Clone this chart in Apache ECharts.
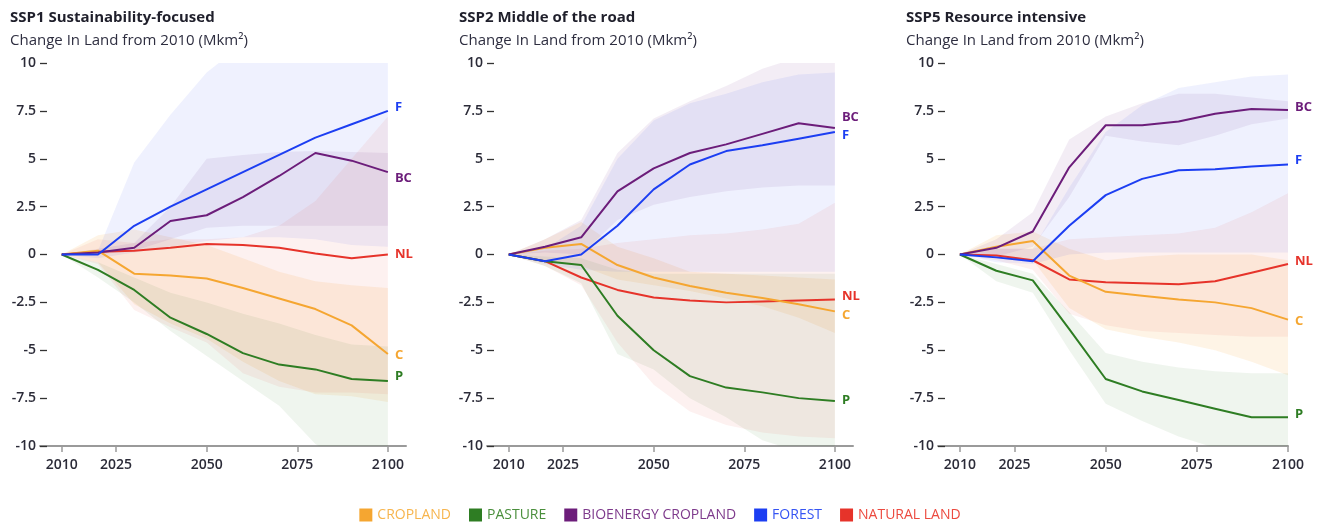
<!DOCTYPE html>
<html>
<head>
<meta charset="utf-8">
<script src="https://cdn.jsdelivr.net/npm/echarts@6.0.0/dist/echarts.min.js"></script>
<style>
html, body { margin: 0; padding: 0; background: #fff; }
#chartLand { width: 1320px; height: 522px; }
</style>
</head>
<body>
<div id="chartLand"></div>
<script>
// years sampled every decade
var years = [2010, 2020, 2030, 2040, 2050, 2060, 2070, 2080, 2090, 2100];
var xTickYears = [2010, 2025, 2050, 2075, 2100];
var panelTitles = ['SSP1 Sustainability-focused', 'SSP2 Middle of the road', 'SSP5 Resource intensive'];
var subTitle = 'Change In Land from 2010 (Mkm²)';
var landNames = ['CROPLAND', 'PASTURE', 'BIOENERGY CROPLAND', 'FOREST', 'NATURAL LAND'];
var endCodes = ['C', 'P', 'BC', 'F', 'NL'];

// SSP1
var ssp1Crop   = [0, 0.2, -1.0, -1.1, -1.25, -1.75, -2.3, -2.85, -3.7, -5.2];
var ssp1CropLo = [0, -0.4, -2.6, -3.6, -4.4, -5.6, -6.6, -7.3, -7.4, -7.7];
var ssp1CropHi = [0, 1.0, 1.3, 0.9, 0.5, -0.2, -0.9, -1.4, -1.6, -1.75];
var ssp1Past   = [0, -0.8, -1.85, -3.3, -4.15, -5.15, -5.75, -6.0, -6.5, -6.6];
var ssp1PastLo = [0, -1.2, -2.5, -4.0, -5.3, -6.6, -7.9, -9.9, -11, -12];
var ssp1PastHi = [0, -0.4, -1.2, -2.0, -2.5, -3.1, -3.6, -4.2, -4.7, -4.8];
var ssp1Bio    = [0, 0.1, 0.35, 1.75, 2.05, 3.0, 4.1, 5.3, 4.9, 4.3];
var ssp1BioLo  = [0, 0, 0.2, 0.8, 1.4, 1.5, 1.5, 1.5, 1.5, 1.5];
var ssp1BioHi  = [0, 0.3, 0.6, 2.5, 5.0, 5.2, 5.35, 5.4, 5.35, 5.3];
var ssp1For    = [0, 0, 1.5, 2.5, 3.4, 4.3, 5.2, 6.1, 6.8, 7.5];
var ssp1ForLo  = [0, -0.2, 0.1, 0.4, 0.7, 0.9, 0.9, 0.8, 0.5, 0.4];
var ssp1ForHi  = [0, 0.2, 4.8, 7.3, 9.5, 11, 12, 12.5, 13, 13];
var ssp1Nat    = [0, 0.15, 0.2, 0.35, 0.55, 0.5, 0.35, 0.05, -0.2, 0];
var ssp1NatLo  = [0, -0.5, -2.9, -3.8, -4.6, -6.2, -6.9, -7.2, -7.2, -7.3];
var ssp1NatHi  = [0, 0.8, 0.6, 0.8, 0.8, 0.9, 1.5, 2.8, 5.0, 7.2];

// SSP2
var ssp2Crop   = [0, 0.35, 0.55, -0.55, -1.2, -1.65, -2.0, -2.27, -2.6, -2.97];
var ssp2CropLo = [0, -0.3, -0.6, -1.3, -1.6, -1.9, -2.3, -2.7, -3.3, -4.1];
var ssp2CropHi = [0, 0.8, 1.7, 0.4, -0.2, -0.9, -1.0, -1.1, -1.2, -1.3];
var ssp2Past   = [0, -0.35, -0.55, -3.2, -5.0, -6.35, -6.95, -7.2, -7.5, -7.65];
var ssp2PastLo = [0, -0.6, -1.5, -5.2, -6.0, -7.5, -8.5, -9.7, -10.3, -10.3];
var ssp2PastHi = [0, -0.1, -0.2, -0.8, -1.0, -1.0, -1.0, -1.0, -1.0, -1.0];
var ssp2Bio    = [0, 0.4, 0.9, 3.3, 4.5, 5.3, 5.75, 6.3, 6.85, 6.6];
var ssp2BioLo  = [0, 0.1, 0, 1.8, 2.6, 3.0, 3.3, 3.5, 3.6, 3.6];
var ssp2BioHi  = [0, 0.8, 1.8, 5.3, 7.1, 8.0, 8.8, 9.7, 10.3, 10.3];
var ssp2For    = [0, -0.35, 0.0, 1.5, 3.4, 4.7, 5.4, 5.7, 6.05, 6.4];
var ssp2ForLo  = [0, -0.5, -0.8, -0.9, -0.9, -0.9, -0.9, -0.9, -0.9, -0.9];
var ssp2ForHi  = [0, 0.3, 1.5, 5.0, 7.0, 7.9, 8.4, 9.0, 9.4, 9.5];
var ssp2Nat    = [0, -0.35, -1.2, -1.85, -2.25, -2.4, -2.5, -2.45, -2.4, -2.35];
var ssp2NatLo  = [0, -0.6, -1.6, -4.6, -6.8, -8.2, -8.9, -9.3, -9.5, -9.6];
var ssp2NatHi  = [0, 0.2, 0.3, 0.6, 0.8, 1.0, 1.1, 1.3, 1.6, 2.7];

// SSP5
var ssp5Crop   = [0, 0.4, 0.7, -1.1, -1.95, -2.15, -2.35, -2.5, -2.8, -3.4];
var ssp5CropLo = [0, -0.1, -0.3, -2.8, -3.9, -4.3, -4.6, -5.0, -5.6, -6.3];
var ssp5CropHi = [0, 1.0, 1.2, 0.3, -0.3, -0.1, 0, 0, 0, -0.3];
var ssp5Past   = [0, -0.85, -1.35, -3.9, -6.5, -7.15, -7.6, -8.05, -8.5, -8.5];
var ssp5PastLo = [0, -1.4, -2.0, -5.0, -7.8, -8.7, -9.5, -10.1, -10.3, -10.3];
var ssp5PastHi = [0, -0.5, -1.0, -3.0, -5.15, -5.6, -5.9, -6.1, -6.2, -6.2];
var ssp5Bio    = [0, 0.35, 1.2, 4.55, 6.75, 6.75, 6.95, 7.35, 7.6, 7.55];
var ssp5BioLo  = [0, -0.1, 0.4, 3.0, 6.2, 5.9, 5.7, 6.2, 6.8, 7.1];
var ssp5BioHi  = [0, 0.8, 2.2, 6.0, 7.2, 7.9, 8.4, 8.4, 8.2, 8.0];
var ssp5For    = [0, -0.15, -0.35, 1.5, 3.1, 3.95, 4.4, 4.45, 4.6, 4.7];
var ssp5ForLo  = [0, -0.4, -0.5, 0, 0.1, 0.1, 0.1, 0.1, 0.1, 0.1];
var ssp5ForHi  = [0, 0.3, 0.3, 3.5, 6.4, 7.8, 8.7, 9.0, 9.3, 9.4];
var ssp5Nat    = [0, -0.05, -0.3, -1.3, -1.45, -1.5, -1.55, -1.4, -0.95, -0.5];
var ssp5NatLo  = [0, -0.3, -0.8, -3.1, -3.7, -4.0, -4.1, -4.2, -4.3, -4.3];
var ssp5NatHi  = [0, 0.3, 0.3, 0.8, 0.9, 1.0, 1.1, 1.4, 2.2, 3.2];

var lineColors = ['#f5a631', '#2e7d23', '#6c1d7a', '#1c3ef2', '#e6332a'];
var bandColors = ['rgba(245,166,49,0.12)', 'rgba(46,125,35,0.08)', 'rgba(108,29,122,0.08)', 'rgba(28,62,242,0.07)', 'rgba(230,51,42,0.07)'];
var legendTextColors = ['#f7b54e', '#4a8f3c', '#7e3a8c', '#3554f3', '#ec4a3f'];

var panels = [
    { mean: [ssp1Crop, ssp1Past, ssp1Bio, ssp1For, ssp1Nat],
      lo:   [ssp1CropLo, ssp1PastLo, ssp1BioLo, ssp1ForLo, ssp1NatLo],
      hi:   [ssp1CropHi, ssp1PastHi, ssp1BioHi, ssp1ForHi, ssp1NatHi] },
    { mean: [ssp2Crop, ssp2Past, ssp2Bio, ssp2For, ssp2Nat],
      lo:   [ssp2CropLo, ssp2PastLo, ssp2BioLo, ssp2ForLo, ssp2NatLo],
      hi:   [ssp2CropHi, ssp2PastHi, ssp2BioHi, ssp2ForHi, ssp2NatHi] },
    { mean: [ssp5Crop, ssp5Past, ssp5Bio, ssp5For, ssp5Nat],
      lo:   [ssp5CropLo, ssp5PastLo, ssp5BioLo, ssp5ForLo, ssp5NatLo],
      hi:   [ssp5CropHi, ssp5PastHi, ssp5BioHi, ssp5ForHi, ssp5NatHi] }
];

// layout per panel
var gridLeft = [40, 487, 938];
var gridWidth = [366, 366, 350];
var xMax = [2105, 2105, 2100];
var titleLeft = [10, 459, 906];
// end label nudges [C, P, BC, F, NL]
var labelNudge = [
    [[0, 1], [0, -5], [0, 6], [0, -4], [0, 0]],
    [[0, 4], [0, -1], [0, -11], [0, 3], [0, -3]],
    [[0, 2], [0, -3], [0, -3], [0, -4], [0, -3]]
];
var lineOrder = [4, 0, 1, 2, 3];

var fontFam = '"Open Sans", "Noto Sans", sans-serif';
var textDark = '#2b2b38';

function pairs(arr) {
    var out = [];
    for (var i = 0; i < years.length; i++) out.push([years[i], arr[i]]);
    return out;
}
function bandRows(lo, hi) {
    var out = [];
    for (var i = 0; i < years.length; i++) out.push([years[i], lo[i], hi[i]]);
    return out;
}
// one polygon per band: upper edge forwards, lower edge backwards
function renderBand(fill) {
    return function (params, api) {
        if (params.dataIndexInside !== 0) return null;
        var n = params.dataInsideLength;
        var upper = [], lower = [];
        for (var i = 0; i < n; i++) {
            upper.push(api.coord([api.value(0, i), api.value(2, i)]));
            lower.unshift(api.coord([api.value(0, i), api.value(1, i)]));
        }
        return {
            type: 'polygon',
            shape: { points: upper.concat(lower) },
            style: { fill: fill, stroke: null }
        };
    };
}

var grids = [], xAxes = [], yAxes = [], titles = [], series = [];

for (var p = 0; p < 3; p++) {
    grids.push({ left: gridLeft[p], top: 63, width: gridWidth[p], height: 383 });
    titles.push({
        text: panelTitles[p],
        subtext: subTitle,
        left: titleLeft[p],
        top: 10,
        padding: 0,
        itemGap: 8,
        textStyle: { fontFamily: fontFam, fontSize: 15, fontWeight: 'bold', color: '#1f1f2b' },
        subtextStyle: { fontFamily: fontFam, fontSize: 15, color: '#2e2e40' }
    });
    xAxes.push({
        type: 'value',
        gridIndex: p,
        min: 2004,
        max: xMax[p],
        splitLine: { show: false },
        axisLine: { show: true, onZero: false, lineStyle: { color: '#9a9a9a', width: 2 } },
        axisTick: { show: true, length: 6, customValues: xTickYears, lineStyle: { color: '#9a9a9a', width: 1.5 } },
        axisLabel: {
            customValues: xTickYears,
            margin: 12,
            fontFamily: fontFam, fontSize: 14, fontWeight: 600, color: textDark,
            formatter: function (v) { return String(v); }
        }
    });
    yAxes.push({
        type: 'value',
        gridIndex: p,
        min: -10,
        max: 10,
        interval: 2.5,
        splitLine: { show: false },
        axisLine: { show: false },
        axisTick: { show: true, inside: true, length: 7, lineStyle: { color: '#333', width: 1.3 } },
        axisLabel: { margin: 4, fontFamily: fontFam, fontSize: 14, fontWeight: 600, color: textDark }
    });

    var pd = panels[p];
    // uncertainty bands
    for (var k = 0; k < 5; k++) {
        series.push({
            name: landNames[k] + ' range',
            type: 'custom',
            xAxisIndex: p, yAxisIndex: p,
            clip: true,
            silent: true,
            z: 1,
            encode: { x: 0, y: [1, 2] },
            renderItem: renderBand(bandColors[k]),
            data: bandRows(pd.lo[k], pd.hi[k])
        });
    }
    // central lines
    for (var j = 0; j < lineOrder.length; j++) {
        var m = lineOrder[j];
        series.push({
            name: landNames[m],
            type: 'line',
            xAxisIndex: p, yAxisIndex: p,
            symbol: 'none',
            color: lineColors[m],
            lineStyle: { width: 2, color: lineColors[m] },
            z: 5,
            endLabel: {
                show: true,
                formatter: endCodes[m],
                distance: 7,
                offset: labelNudge[p][m],
                color: lineColors[m],
                fontFamily: fontFam,
                fontSize: 13,
                fontWeight: 'bold'
            },
            data: pairs(pd.mean[m])
        });
    }
}

var legendData = [];
for (var i = 0; i < landNames.length; i++) {
    legendData.push({ name: landNames[i], itemStyle: { color: lineColors[i] }, textStyle: { color: legendTextColors[i] } });
}

var myChart = echarts.init(document.getElementById('chartLand'), null, { renderer: 'canvas' });
var option = {
    animation: false,
    backgroundColor: '#ffffff',
    title: titles,
    legend: {
        data: legendData,
        left: 'center',
        top: 503,
        icon: 'rect',
        itemWidth: 13,
        itemHeight: 13,
        itemGap: 18,
        textStyle: { fontFamily: fontFam, fontSize: 14, fontWeight: 500 }
    },
    grid: grids,
    xAxis: xAxes,
    yAxis: yAxes,
    series: series
};
myChart.setOption(option);
</script>
</body>
</html>
